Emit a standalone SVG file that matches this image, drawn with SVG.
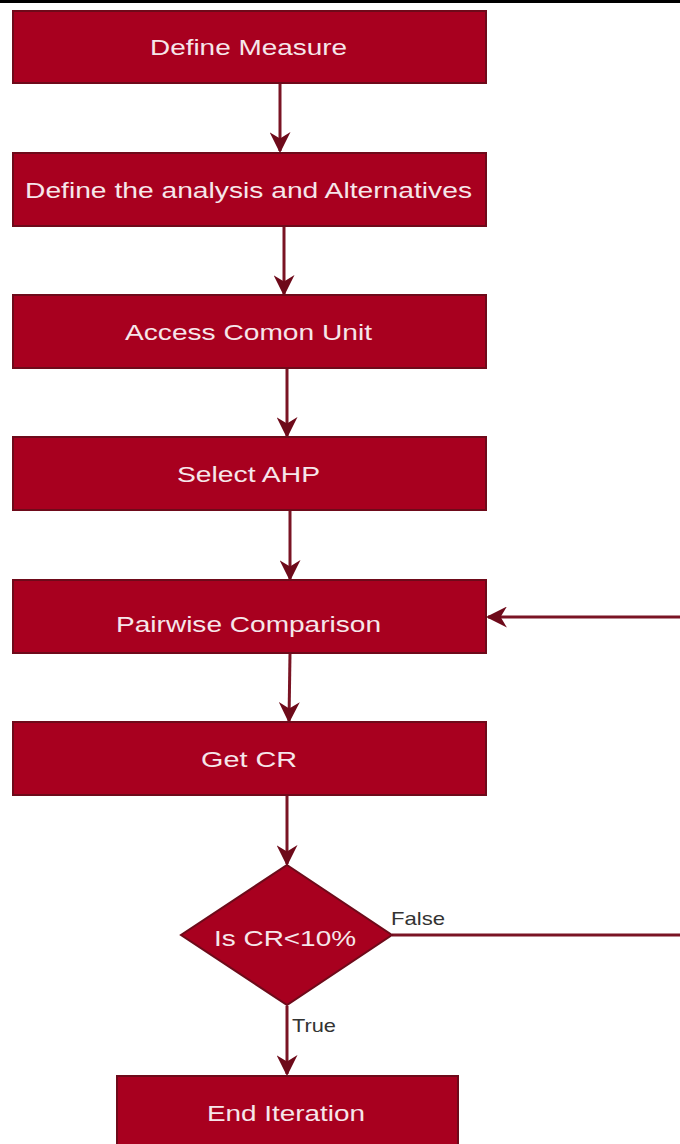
<svg xmlns="http://www.w3.org/2000/svg" width="680" height="1144" viewBox="0 0 680 1144">
<style>
.box{fill:#A8001F;stroke:#6E0A1A;stroke-width:2}
.lbl{font-family:"Liberation Sans",Arial,sans-serif;font-size:22px;fill:#F6E6EA;text-anchor:middle;dominant-baseline:central}
.edge{fill:none;stroke:#7A1424;stroke-width:3}
.elbl{font-family:"Liberation Sans",Arial,sans-serif;font-size:19px;fill:#333}
</style>
<defs>
<marker id="ah" viewBox="0 0 10 10" refX="9" refY="5" markerWidth="7" markerHeight="7" markerUnits="strokeWidth" orient="auto">
<path d="M0,0 L10,5 L0,10 L3,5 Z" fill="#6E0A1A"/>
</marker>
</defs>
<rect x="0" y="0" width="680" height="3" fill="#000"/>
<g id="connectors">
<line class="edge" x1="280" y1="84" x2="280" y2="151" marker-end="url(#ah)"/>
<line class="edge" x1="284" y1="226" x2="284" y2="294" marker-end="url(#ah)"/>
<line class="edge" x1="287" y1="368" x2="287" y2="436" marker-end="url(#ah)"/>
<line class="edge" x1="290" y1="510" x2="290" y2="579" marker-end="url(#ah)"/>
<line class="edge" x1="290" y1="653" x2="289" y2="721" marker-end="url(#ah)"/>
<line class="edge" x1="287" y1="796" x2="287" y2="864" marker-end="url(#ah)"/>
<polyline class="edge" points="392,935 680,935"/>
<line class="edge" x1="680" y1="617" x2="488" y2="617" marker-end="url(#ah)"/>
<line class="edge" x1="287" y1="1006" x2="287" y2="1074" marker-end="url(#ah)"/>
<text class="elbl" x="391" y="925" textLength="54" lengthAdjust="spacingAndGlyphs">False</text>
<text class="elbl" x="292" y="1032" textLength="44" lengthAdjust="spacingAndGlyphs">True</text>
</g>
<g id="n1"><rect class="box" x="13" y="11" width="473" height="72"/><text class="lbl" x="248.5" y="47" textLength="197" lengthAdjust="spacingAndGlyphs">Define Measure</text></g>
<g id="n2"><rect class="box" x="13" y="153" width="473" height="73"/><text class="lbl" x="248.5" y="190" textLength="447" lengthAdjust="spacingAndGlyphs">Define the analysis and Alternatives</text></g>
<g id="n3"><rect class="box" x="13" y="295" width="473" height="73"/><text class="lbl" x="248.5" y="332" textLength="247" lengthAdjust="spacingAndGlyphs">Access Comon Unit</text></g>
<g id="n4"><rect class="box" x="13" y="437" width="473" height="73"/><text class="lbl" x="248.5" y="474" textLength="143" lengthAdjust="spacingAndGlyphs">Select AHP</text></g>
<g id="n5"><rect class="box" x="13" y="580" width="473" height="73"/><text class="lbl" x="248.5" y="624" textLength="265" lengthAdjust="spacingAndGlyphs">Pairwise Comparison</text></g>
<g id="n6"><rect class="box" x="13" y="722" width="473" height="73"/><text class="lbl" x="249" y="759" textLength="96" lengthAdjust="spacingAndGlyphs">Get CR</text></g>
<g id="n7"><polygon class="box" points="287,865 392,935 287,1005 181,935"/><text class="lbl" x="285" y="938" textLength="142" lengthAdjust="spacingAndGlyphs">Is CR&lt;10%</text></g>
<g id="n8"><rect class="box" x="117" y="1076" width="341" height="80"/><text class="lbl" x="286" y="1113" textLength="158" lengthAdjust="spacingAndGlyphs">End Iteration</text></g>
</svg>
